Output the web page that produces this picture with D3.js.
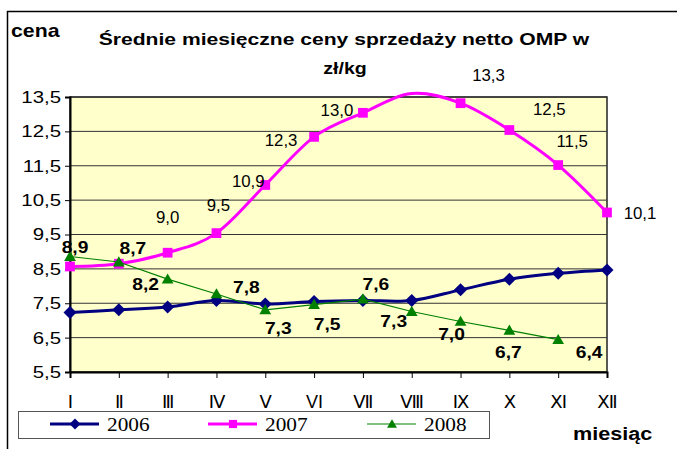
<!DOCTYPE html>
<html lang="pl">
<head>
<meta charset="UTF-8">
<title>Średnie miesięczne ceny sprzedaży netto OMP</title>
<script src="https://cdn.jsdelivr.net/npm/d3@7"></script>
<style>
  body { margin: 0; background: #fff; }
  .serif { font-family: "Liberation Serif", "DejaVu Serif", serif; }
</style>
</head>
<body>
<svg id="chart" width="677" height="449"></svg>
<script>
// data
const months = ["Ⅰ", "Ⅱ", "Ⅲ", "Ⅳ", "Ⅴ", "VI", "Ⅶ", "Ⅷ", "Ⅸ", "Ⅹ", "Ⅺ", "Ⅻ"];
const yTicks = [5.5, 6.5, 7.5, 8.5, 9.5, 10.5, 11.5, 12.5, 13.5];
const years = ["2006", "2007", "2008"];
const v2006 = [7.23, 7.31, 7.39, 7.58, 7.48, 7.55, 7.58, 7.58, 7.89, 8.2, 8.37, 8.47];
const v2007 = [8.57, 8.65, 8.97, 9.54, 10.94, 12.34, 13.04, 13.6, 13.32, 12.54, 11.52, 10.14];
const v2008 = [8.86, 8.7, 8.2, 7.77, 7.31, 7.46, 7.62, 7.26, 6.97, 6.71, 6.44];

// label placement (offset of label centre from its point), null = no label
const off2007 = [null, null, [0, -35], [2, -28], [-17, -4], [-33, 4], [-26, -2], null, [28, -28], [40, -21], [14, -24], [33, 1]];
const off2008 = [[5, -9], [14, -14], [-22, 5], [30, -6], [13, 19], [13, 20], [13, -15], [-18, 10], [-9, 13], [-1, 22], [31, 13]];

const fmt = d => d3.format(".1f")(d).replace(".", ",");
const SANS = "'Liberation Sans', Arial, sans-serif";

// the picture is a bit wider than the font, stretch texts horizontally
function stretch(sel, k) {
  sel.each(function() {
    const w = this.getComputedTextLength();
    d3.select(this).attr("textLength", w * k).attr("lengthAdjust", "spacingAndGlyphs");
  });
}

const svg = d3.select("#chart").attr("font-family", SANS);
const plotLeft = 70, plotRight = 607, plotTop = 97, plotBottom = 372;

const x = d3.scalePoint().domain(months).range([plotLeft, plotRight]);
const y = d3.scaleLinear().domain([5.5, 13.5]).range([plotBottom, plotTop]);

// outer frame
svg.append("path")
  .attr("d", "M7.5,449 V11.5 H677")
  .attr("fill", "none")
  .attr("stroke", "#000")
  .attr("stroke-width", 1.5);

// plot area
svg.append("rect")
  .attr("x", plotLeft).attr("y", plotTop)
  .attr("width", plotRight - plotLeft).attr("height", plotBottom - plotTop)
  .attr("fill", "#FFFFCC")
  .attr("stroke", "#222")
  .attr("stroke-width", 1.5);

svg.append("g")
  .selectAll("line")
  .data(yTicks)
  .join("line")
  .attr("x1", plotLeft).attr("x2", plotRight)
  .attr("y1", d => y(d)).attr("y2", d => y(d))
  .attr("stroke", "#333")
  .attr("stroke-width", 1);

// axes
const yAxis = svg.append("g")
  .attr("transform", `translate(${plotLeft},0)`)
  .call(d3.axisLeft(y).tickValues(yTicks).tickSize(5).tickPadding(4).tickFormat(fmt));
yAxis.attr("font-family", null).attr("font-size", 17).selectAll("text").attr("fill", "#000");
yAxis.select(".domain").attr("stroke-width", 2);
stretch(yAxis.selectAll("text"), 1.2);

const xAxis = svg.append("g")
  .attr("transform", `translate(0,${plotBottom})`)
  .call(d3.axisBottom(x).tickSize(6).tickPadding(17));
xAxis.attr("font-family", "'Liberation Sans', 'DejaVu Sans', sans-serif").attr("font-size", 18)
  .selectAll("text").attr("fill", "#000");
xAxis.select(".domain").attr("stroke-width", 2);

// series
const series = [
  { name: years[0], values: v2006, color: "#000080", width: 3, curve: d3.curveCatmullRom.alpha(0), symbol: "diamond" },
  { name: years[1], values: v2007, color: "#FF00FF", width: 3, curve: d3.curveCatmullRom.alpha(0), symbol: "square" },
  { name: years[2], values: v2008, color: "#008000", width: 1.2, curve: d3.curveLinear, symbol: "triangle" }
];

function marker(g, s, size) {
  if (s.symbol === "diamond") {
    g.append("path").attr("d", d3.symbol(d3.symbolSquare, size * 85)()).attr("transform", "rotate(45)");
  } else if (s.symbol === "square") {
    g.append("path").attr("d", d3.symbol(d3.symbolSquare, size * 95)());
  } else {
    g.append("path").attr("d", d3.symbol(d3.symbolTriangle, size * 60)()).attr("transform", "translate(0,1)");
  }
  g.attr("fill", s.color);
}

series.forEach(s => {
  svg.append("path")
    .datum(s.values)
    .attr("fill", "none")
    .attr("stroke", s.color)
    .attr("stroke-width", s.width)
    .attr("stroke-linejoin", "round")
    .attr("d", d3.line().x((d, i) => x(months[i])).y(d => y(d)).curve(s.curve));

  s.values.forEach((v, i) => {
    if (v > y.domain()[1]) return;
    const g = svg.append("g").attr("transform", `translate(${x(months[i])},${y(v)})`);
    marker(g, s, 1);
  });
});

// value labels
const lab2007 = svg.append("g").selectAll("text")
  .data(v2007.map((v, i) => ({ v, i, o: off2007[i] })).filter(d => d.o))
  .join("text")
  .attr("x", d => x(months[d.i]) + d.o[0])
  .attr("y", d => y(d.v) + d.o[1])
  .attr("text-anchor", "middle")
  .attr("dominant-baseline", "central")
  .attr("font-size", 16)
  .text(d => fmt(d.v));
stretch(lab2007, 1.05);

const lab2008 = svg.append("g").selectAll("text")
  .data(v2008.map((v, i) => ({ v, i, o: off2008[i] })))
  .join("text")
  .attr("x", d => x(months[d.i]) + d.o[0])
  .attr("y", d => y(d.v) + d.o[1])
  .attr("text-anchor", "middle")
  .attr("dominant-baseline", "central")
  .attr("font-size", 16)
  .attr("font-weight", "bold")
  .text(d => fmt(d.v));
stretch(lab2008, 1.2);

// titles
const titles = svg.append("g").attr("font-weight", "bold");
const t1 = titles.append("text").attr("x", 344).attr("y", 45).attr("text-anchor", "middle").attr("font-size", 17)
  .text("Średnie miesięczne ceny sprzedaży netto OMP w");
const t2 = titles.append("text").attr("x", 345).attr("y", 74).attr("text-anchor", "middle").attr("font-size", 17)
  .text("zł/kg");
stretch(t1, 1.24);
stretch(t2, 1.15);
const t3 = titles.append("text").attr("x", 11).attr("y", 37).attr("font-size", 19).text("cena");
const t4 = titles.append("text").attr("x", 573).attr("y", 440).attr("font-size", 18).text("miesiąc");
stretch(t3, 1.12);
stretch(t4, 1.2);

// legend
const legend = svg.append("g");
legend.append("rect")
  .attr("x", 18.5).attr("y", 411.5).attr("width", 471).attr("height", 27)
  .attr("fill", "#fff").attr("stroke", "#555").attr("stroke-width", 1);
const legX = [50, 208, 367];
series.forEach((s, i) => {
  const g = legend.append("g").attr("transform", `translate(${legX[i]},424)`);
  g.append("line").attr("x1", 0).attr("x2", 49).attr("stroke", s.color).attr("stroke-width", s.width);
  const m = g.append("g").attr("transform", "translate(25,0)");
  marker(m, s, 0.7);
  g.append("text").attr("class", "serif").attr("x", 57).attr("y", 7)
    .attr("font-size", 19)
    .text(s.name);
});
stretch(legend.selectAll("text"), 1.12);
</script>
</body>
</html>
